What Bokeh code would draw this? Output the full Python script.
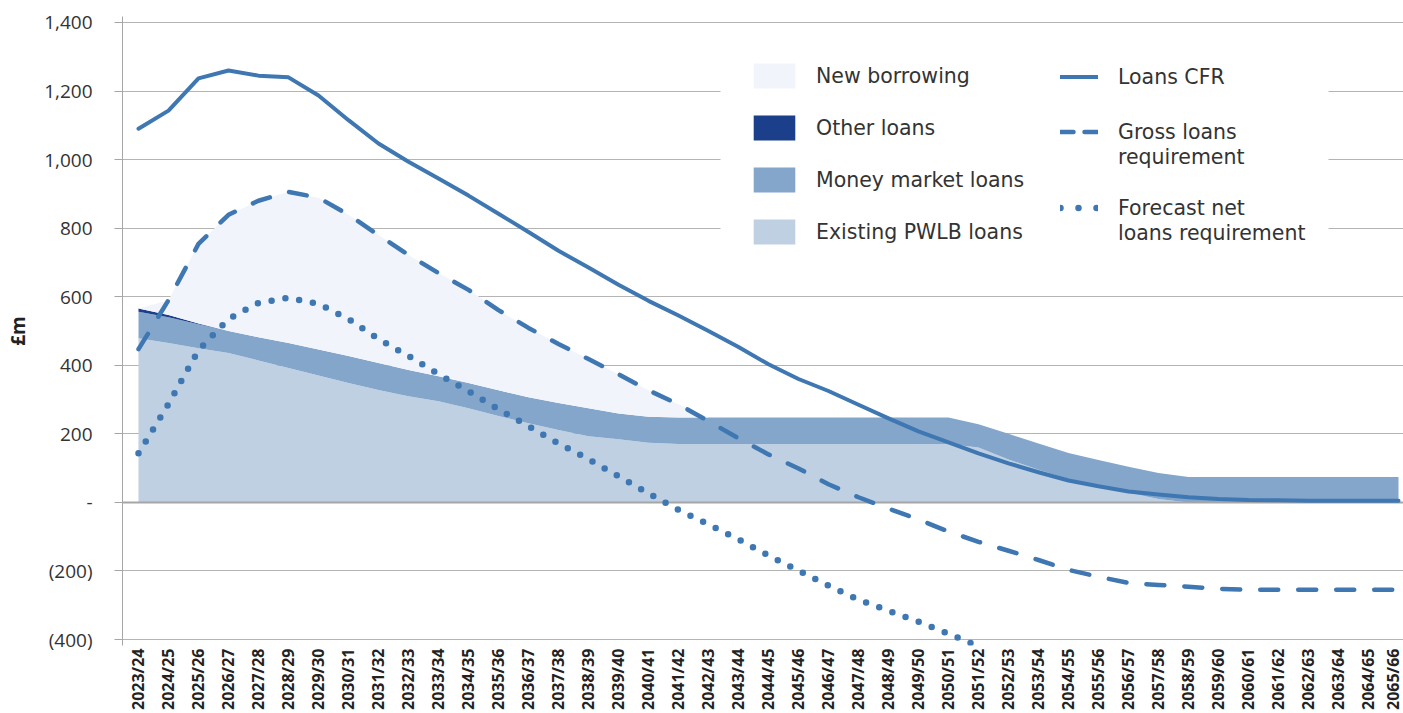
import math
from bokeh.plotting import figure
from bokeh.models import (Range1d, FixedTicker, Legend, LegendItem, ColumnDataSource,
                          BoxAnnotation)
from bokeh.embed import file_html
from bokeh.resources import INLINE

# ---------------- data (£m) ----------------
years = ["2023/24", "2024/25", "2025/26", "2026/27", "2027/28", "2028/29", "2029/30",
         "2030/31", "2031/32", "2032/33", "2033/34", "2034/35", "2035/36", "2036/37",
         "2037/38", "2038/39", "2039/40", "2040/41", "2041/42", "2042/43", "2043/44",
         "2044/45", "2045/46", "2046/47", "2047/48", "2048/49", "2049/50", "2050/51",
         "2051/52", "2052/53", "2053/54", "2054/55", "2055/56", "2056/57", "2057/58",
         "2058/59", "2059/60", "2060/61", "2061/62", "2062/63", "2063/64", "2064/65",
         "2065/66"]

existing_pwlb = [479, 465, 450, 436, 414, 392, 370, 348, 328, 310, 295, 275, 252, 231,
                 211, 193, 184, 174, 170, 170, 170, 170, 170, 170, 170, 170, 170, 170,
                 160, 125, 95, 68, 47, 28, 10, 0, 0, 0, 0, 0, 0, 0, 0]
money_market = [77, 75, 70, 64, 68, 73, 76, 79, 79, 76, 73, 73, 75, 76,
                79, 82, 75, 76, 78, 78, 78, 78, 78, 78, 78, 78, 78, 78,
                68, 75, 77, 76, 77, 76, 76, 74, 74, 74, 74, 74, 74, 74, 74]
other_loans = [10, 7, 2, 0, 0, 0, 0, 0, 0, 0, 0, 0, 0, 0,
               0, 0, 0, 0, 0, 0, 0, 0, 0, 0, 0, 0, 0, 0,
               0, 0, 0, 0, 0, 0, 0, 0, 0, 0, 0, 0, 0, 0, 0]
new_borrowing = [0, 43, 232, 339, 398, 441, 443, 412, 373, 336, 301, 272, 234, 202,
                 172, 143, 115, 77, 38, 0, 0, 0, 0, 0, 0, 0, 0, 0,
                 0, 0, 0, 0, 0, 0, 0, 0, 0, 0, 0, 0, 0, 0, 0]
loans_cfr = [1090, 1143, 1237, 1260, 1245, 1240, 1187, 1115, 1047, 994, 945, 895, 842, 789,
             734, 685, 635, 588, 545, 500, 453, 403, 360, 325, 285, 245, 207, 175,
             143, 114, 88, 64, 47, 32, 23, 15, 10, 7, 6, 5, 5, 5, 5]
gross_req = [447, 590, 754, 839, 880, 906, 889, 839, 780, 722, 669, 620, 561, 509,
             462, 418, 374, 327, 286, 237, 187, 140, 99, 53, 15, -18, -50, -85,
             -115, -141, -168, -197, -217, -235, -241, -246, -252, -255, -255, -255,
             -255, -255, -255]
net_req = [143, 287, 444, 535, 582, 597, 579, 535, 477, 427, 374, 324, 272, 222,
           172, 126, 76, 26, -22, -64, -108, -155, -199, -243, -284, -316, -348, -383,
           -420]

y_ticks = [-400, -200, 0, 200, 400, 600, 800, 1000, 1200, 1400]

# ---------------- styling ----------------
C_NEW = "#F1F5FB"
C_OTHER = "#1B3F8A"
C_MM = "#84A6CA"
C_PWLB = "#BFD0E3"
C_LINE = "#3E77B1"
GRID = "#B4B4B4"
TXT = "#333333"
FONT = "Open Sans"
LEG_FONT = "DejaVu Sans"
LEG_SIZE = "20.5px"

idx = list(range(len(years)))
src = ColumnDataSource(dict(x=idx, pwlb=existing_pwlb, mm=money_market, other=other_loans,
                            new=new_borrowing, cfr=loans_cfr, gross=gross_req))
src_net = ColumnDataSource(dict(x=idx[:len(net_req)], net=net_req))
# legend-only sample (a single empty point, nothing is drawn in the plot)
src_proxy = ColumnDataSource(dict(x=[0], y=[float("nan")]))

p = figure(width=1403, height=713, output_backend="svg", toolbar_location=None,
           x_range=Range1d(-0.533, 42.167), y_range=Range1d(-417.5, 1417.5),
           min_border_left=122, min_border_right=0, min_border_top=16, min_border_bottom=68)
p.outline_line_color = None
p.background_fill_color = "white"
p.border_fill_color = "white"

areas = p.varea_stack(stackers=["pwlb", "mm", "other", "new"], x="x",
                      color=[C_PWLB, C_MM, C_OTHER, C_NEW], source=src)
r_pwlb, r_mm, r_other, r_new = areas

p.hspan(y=0, line_color="#A6A6A6", line_width=2)

r_cfr = p.line("x", "cfr", source=src, line_color=C_LINE, line_width=4,
               line_join="round", line_cap="round")
r_gross = p.line("x", "gross", source=src, line_color=C_LINE, line_width=4.5,
                 line_dash="18 20", line_cap="round", line_join="round")
r_net = p.line("x", "net", source=src_net, line_color=C_LINE, line_width=6.5,
               line_dash="0 14", line_cap="round", line_join="round")

lg_gross = p.line("x", "y", source=src_proxy, line_color=C_LINE, line_width=4.5,
                  line_dash="13 11", line_cap="round")
lg_net = p.line("x", "y", source=src_proxy, line_color=C_LINE, line_width=6.5,
                line_dash="0 18", line_cap="round")
lg_blank = p.line("x", "y", source=src_proxy, line_alpha=0)

# ---------------- axes ----------------
p.yaxis.ticker = FixedTicker(ticks=y_ticks)
def fmt(v):
    if v == 0:
        return "-"
    s = f"{abs(v):,}"
    return f"({s})" if v < 0 else s
p.yaxis.major_label_overrides = {v: fmt(v) for v in y_ticks}
p.yaxis.axis_line_color = "#A6A6A6"
p.yaxis.major_tick_line_color = "#A6A6A6"
p.yaxis.major_tick_out = 8
p.yaxis.major_tick_in = 0
p.yaxis.minor_tick_line_color = None
p.yaxis.major_label_standoff = 22
p.yaxis.major_label_text_font = FONT
p.yaxis.major_label_text_font_size = "19px"
p.yaxis.major_label_text_color = TXT
p.yaxis.axis_label = "£m"
p.yaxis.axis_label_text_font = FONT
p.yaxis.axis_label_text_font_style = "bold"
p.yaxis.axis_label_text_font_size = "19px"
p.yaxis.axis_label_text_color = "#222222"
p.yaxis.axis_label_standoff = 10

p.xaxis.ticker = FixedTicker(ticks=idx)
p.xaxis.major_label_overrides = {i: years[i] for i in idx}
p.xaxis.major_label_orientation = math.pi / 2
p.xaxis.axis_line_color = None
p.xaxis.major_tick_line_color = None
p.xaxis.minor_tick_line_color = None
p.xaxis.major_tick_out = 0
p.xaxis.major_tick_in = 0
p.xaxis.major_label_standoff = 3
p.xaxis.major_label_text_font = FONT
p.xaxis.major_label_text_font_style = "bold"
p.xaxis.major_label_text_font_size = "16px"
p.xaxis.major_label_text_color = "#222222"

p.xgrid.visible = False
p.ygrid.ticker = FixedTicker(ticks=y_ticks)
p.ygrid.grid_line_color = GRID
p.ygrid.grid_line_width = 1

# ---------------- legends ----------------
# white legend background panel (screen units, relative to the plot frame)
legend_bg = BoxAnnotation(left=598, right=1206, bottom=380, top=601,
                          left_units="screen", right_units="screen",
                          bottom_units="screen", top_units="screen",
                          fill_color="white", fill_alpha=1.0, line_alpha=0,
                          editable=False)
p.add_layout(legend_bg)

def make_legend(items, location, glyph_width, glyph_height, spacing, standoff, label_width):
    return Legend(items=items, location=location, orientation="vertical",
                  glyph_width=glyph_width, glyph_height=glyph_height,
                  label_height=glyph_height, label_width=label_width,
                  spacing=spacing, padding=20, margin=0, label_standoff=standoff,
                  label_text_font=LEG_FONT, label_text_font_size=LEG_SIZE,
                  label_text_color=TXT,
                  background_fill_color="white", background_fill_alpha=1.0,
                  border_line_color=None)

leg_areas = make_legend([LegendItem(label="New borrowing", renderers=[r_new]),
                         LegendItem(label="Other loans", renderers=[r_other]),
                         LegendItem(label="Money market loans", renderers=[r_mm]),
                         LegendItem(label="Existing PWLB loans", renderers=[r_pwlb])],
                        (626, 398), 52, 31, 21, 16, 215)
leg_cfr = make_legend([LegendItem(label="Loans CFR", renderers=[r_cfr])],
                      (938, 556), 38, 25, 0, 20, 190)
leg_gross = make_legend([LegendItem(label="Gross loans", renderers=[lg_gross]),
                         LegendItem(label="requirement", renderers=[lg_blank])],
                        (938, 476), 38, 25, 0, 20, 190)
leg_net = make_legend([LegendItem(label="Forecast net", renderers=[lg_net]),
                       LegendItem(label="loans requirement", renderers=[lg_blank])],
                      (938, 400), 38, 25, 0, 20, 190)
for lg in (leg_areas, leg_cfr, leg_gross, leg_net):
    p.add_layout(lg)

open("out.html", "w").write(file_html(p, INLINE))
